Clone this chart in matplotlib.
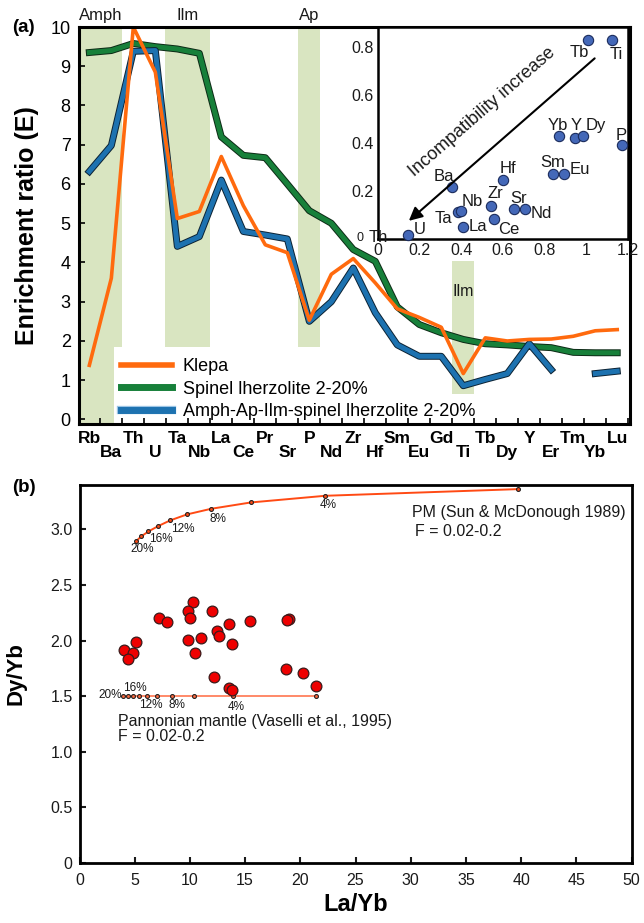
import numpy as np
import matplotlib.pyplot as plt
import matplotlib.patheffects as pe
from matplotlib.lines import Line2D

plt.rcParams['font.family'] = ['Liberation Sans', 'DejaVu Sans']

# ---- panel (a) data ----
elements = ['Rb', 'Ba', 'Th', 'U', 'Ta', 'Nb', 'La', 'Ce', 'Pr', 'Sr', 'P', 'Nd', 'Zr',
            'Hf', 'Sm', 'Eu', 'Gd', 'Ti', 'Tb', 'Dy', 'Y', 'Er', 'Tm', 'Yb', 'Lu']
klepa = [1.38, 3.6, 10.0, 8.85, 5.12, 5.3, 6.7, 5.45, 4.45, 4.25, 2.53, 3.7, 4.1,
         3.48, 2.82, 2.6, 2.35, 1.17, 2.08, 2.0, 2.04, 2.05, 2.12, 2.26, 2.29]
spinel = [9.35, 9.4, 9.58, 9.5, 9.44, 9.33, 7.2, 6.73, 6.67, 6.0, 5.32, 5.0, 4.33,
          4.03, 2.87, 2.42, 2.21, 2.04, 1.93, 1.9, 1.86, 1.83, 1.71, 1.7, 1.7]
amph_ap = [6.32, 6.98, 9.38, 9.4, 4.41, 4.66, 6.1, 4.79, 4.7, 4.6, 2.5, 3.0, 3.86,
           2.72, 1.9, 1.61, 1.61, 0.86, 1.02, 1.17, 1.93, 1.27, np.nan, 1.17, 1.23]

# inset: partition behaviour of elements
inset_x = [0.143, 0.357, 0.382, 0.398, 0.406, 0.541, 0.555, 0.598, 0.651, 0.707,
           0.838, 0.893, 0.867, 0.947, 0.982, 1.171, 1.006, 1.125]
inset_y = [0.015, 0.218, 0.111, 0.117, 0.049, 0.139, 0.085, 0.246, 0.126, 0.126,
           0.271, 0.271, 0.43, 0.422, 0.429, 0.39, 0.828, 0.828]
label_el = ['Th', 'U', 'Ba', 'Ta', 'Nb', 'La', 'Zr', 'Ce', 'Hf', 'Sr', 'Nd', 'Sm', 'Eu',
            'Yb', 'Y', 'Dy', 'P', 'Tb', 'Ti']
label_x = [0.0, 0.198, 0.315, 0.315, 0.45, 0.481, 0.562, 0.626, 0.622, 0.673, 0.782,
           0.838, 0.97, 0.862, 0.95, 1.046, 1.166, 0.966, 1.143]
label_y = [0.007, 0.04, 0.26, 0.086, 0.155, 0.054, 0.1875, 0.0375, 0.294, 0.17, 0.107,
           0.318, 0.2875, 0.471, 0.471, 0.471, 0.433, 0.776, 0.767]

# ---- panel (b) data ----
la_yb = [10.32, 9.86, 10.02, 12.04, 7.23, 7.96, 13.55, 15.46, 18.99, 18.84, 12.49, 12.67,
         9.86, 10.99, 13.83, 5.12, 4.06, 4.88, 4.42, 10.44, 18.72, 20.24, 21.38, 12.22,
         13.53, 13.85]
dy_yb = [2.348, 2.267, 2.207, 2.270, 2.207, 2.171, 2.153, 2.180, 2.195, 2.183, 2.084, 2.039,
         2.009, 2.023, 1.967, 1.987, 1.919, 1.892, 1.838, 1.888, 1.744, 1.708, 1.595, 1.669,
         1.573, 1.559]
pm_x = [5.10, 5.58, 6.24, 7.12, 8.20, 9.72, 11.92, 15.52, 22.26, 39.73]
pm_y = [2.892, 2.937, 2.982, 3.030, 3.081, 3.135, 3.186, 3.243, 3.303, 3.363]
pan_x = [3.97, 4.37, 4.82, 5.39, 6.09, 7.03, 8.36, 10.41, 13.94, 21.41]
pan_y = [1.498] * 10
pm_lab = ['20%', '16%', '12%', '8%', '4%']
pm_lab_x = [5.64, 7.39, 9.32, 12.58, 22.56]
pm_lab_y = [2.82, 2.91, 3.0, 3.09, 3.216]
pan_lab_x = [2.77, 4.97, 6.48, 8.87, 14.16]
pan_lab_y = [1.507, 1.577, 1.417, 1.417, 1.402]

txt = '#1a1a1a'
fig = plt.figure(figsize=(6.44, 9.23), dpi=100)

# ================= panel (a) =================
ax = fig.add_axes([79 / 644, 1 - 424 / 923, 551 / 644, 397 / 923])
pos = np.arange(len(elements))
band = '#d9e5c1'
ylow = 1.85  # bands stop above the legend
ax.fill_between([-0.5, 1.12], -0.2, 10, color=band, lw=0, zorder=0)
ax.fill_between([1.12, 1.5], ylow, 10, color=band, lw=0, zorder=0)
ax.fill_between([3.45, 5.5], ylow, 10, color=band, lw=0, zorder=0)
ax.fill_between([9.5, 10.5], ylow, 10, color=band, lw=0, zorder=0)
ax.fill_between([16.5, 17.5], 0.66, 4.05, color=band, lw=0, zorder=0)
ax.text(17, 3.26, 'Ilm', ha='center', va='center', fontsize=11.5, color=txt)

bt = ax.get_xaxis_transform()
for xc, name in [(0.52, 'Amph'), (4.45, 'Ilm'), (10.0, 'Ap')]:
    ax.text(xc, 1.03, name, transform=bt, ha='center', va='center', fontsize=12, color=txt)

green = '#17803a'
blue = '#1d72b0'
orange = '#ff6a0e'
ax.plot(pos, spinel, color=green, lw=3.6, zorder=3,
        path_effects=[pe.Stroke(linewidth=5.0, foreground='#0d2a16'), pe.Normal()])
ax.plot(pos, amph_ap, color=blue, lw=3.6, zorder=4,
        path_effects=[pe.Stroke(linewidth=5.0, foreground='#0c2233'), pe.Normal()])
ax.plot(pos, klepa, color=orange, lw=2.6, zorder=5)

ax.set_xlim(-0.47, 24.58)
ax.set_ylim(-0.115, 10)
ax.set_yticks(range(0, 11))
ax.set_xticks(pos)
ax.set_xticklabels([e if i % 2 == 0 else '\n' + e for i, e in enumerate(elements)],
                   fontsize=12.5, fontweight='bold', linespacing=0.95)
ax.set_xticks(pos + 0.5, minor=True)
ax.tick_params(axis='x', which='major', length=0, pad=5)
ax.tick_params(axis='x', which='minor', direction='in', length=4, width=1.2)
ax.tick_params(axis='y', direction='in', length=4, width=1.2, labelsize=13, pad=6)
for s in ax.spines.values():
    s.set_linewidth(2.2)
    s.set_zorder(8)
ax.set_ylabel('Enrichment ratio (E)', fontsize=18, fontweight='bold', labelpad=8)

handles = [Line2D([], [], color=orange, lw=4),
           Line2D([], [], color=green, lw=5),
           Line2D([], [], color=blue, lw=5,
                  path_effects=[pe.Stroke(linewidth=6, foreground='#9cc5e6'), pe.Normal()])]
leg = ax.legend(handles, ['Klepa', 'Spinel lherzolite 2-20%',
                          'Amph-Ap-Ilm-spinel lherzolite 2-20%'],
                loc='lower left', bbox_to_anchor=(0.07, 0.0), borderaxespad=0,
                fontsize=13, handlelength=2.8, handletextpad=0.6, labelspacing=0.32,
                borderpad=0.2, frameon=False)
leg.set_zorder(7)

fig.text(12 / 644, 1 - 27 / 923, '(a)', fontsize=13.5, fontweight='bold', va='center')

# ---- inset ----
axi = fig.add_axes([378 / 644, 1 - 239 / 923, 250 / 644, 212 / 923])
axi.set_zorder(9)
axi.scatter(inset_x, inset_y, s=55, color='#4468b8', edgecolor='#1b2c5c', lw=0.8,
            zorder=3, clip_on=False)
for n, x, y in zip(label_el, label_x, label_y):
    axi.text(x, y, n, ha='center', va='center', fontsize=12, color=txt, clip_on=False)
axi.annotate('', xy=(0.138, 0.068), xytext=(1.05, 0.76),
             arrowprops=dict(arrowstyle='-|>', lw=1.5, color='k', mutation_scale=20))
axi.text(0.50, 0.528, 'Incompatibility increase', rotation=41, rotation_mode='anchor',
         ha='center', va='center', fontsize=13, color=txt)
axi.set_xlim(0, 1.2)
axi.set_ylim(0, 0.883)
axi.set_xticks([0, 0.2, 0.4, 0.6, 0.8, 1.0, 1.2])
axi.set_xticklabels(['0', '0.2', '0.4', '0.6', '0.8', '1', '1.2'])
axi.set_yticks([0.2, 0.4, 0.6, 0.8])
axi.set_yticklabels(['0.2', '0.4', '0.6', '0.8'])
axi.text(-0.072, 0.004, '0', ha='right', va='center', fontsize=9, color=txt)
axi.tick_params(length=0, labelsize=11.5, pad=3, colors=txt)
for s in axi.spines.values():
    s.set_linewidth(1.8)

# ================= panel (b) =================
axb = fig.add_axes([79.5 / 644, 1 - 863 / 923, 552 / 644, 378 / 923])
pm_col = '#ff4a14'
axb.plot(pm_x, pm_y, color=pm_col, lw=1.4, marker='o', ms=2.8, mfc=pm_col, mec='#222222',
         mew=0.8, zorder=3)
axb.plot(pan_x, pan_y, color='#ff6a40', lw=1.1, marker='o', ms=2.8, mfc='#ff6a40',
         mec='#222222', mew=0.8, zorder=3)
axb.scatter(la_yb, dy_yb, s=60, color='#ee0000', edgecolor='#3a1a1a', lw=0.9, zorder=4)
for t, x, y in zip(pm_lab, pm_lab_x, pm_lab_y):
    axb.text(x, y, t, ha='center', va='center', fontsize=8.5, color=txt)
for t, x, y in zip(pm_lab, pan_lab_x, pan_lab_y):
    axb.text(x, y, t, ha='center', va='center', fontsize=8.5, color=txt)
axb.text(3.52, 1.276, 'Pannonian mantle (Vaselli et al., 1995)', ha='left', va='center',
         fontsize=11.5, color=txt)
axb.text(3.52, 1.14, 'F = 0.02-0.2', ha='left', va='center', fontsize=11.5, color=txt)
axb.text(49.5, 3.153, 'PM (Sun & McDonough 1989)', ha='right', va='center',
         fontsize=11.5, color=txt)
axb.text(30.35, 2.985, 'F = 0.02-0.2', ha='left', va='center', fontsize=11.5, color=txt)

axb.set_xlim(0, 50)
axb.set_ylim(0, 3.40)
axb.set_xticks(range(0, 51, 5))
axb.set_yticks([0, 0.5, 1.0, 1.5, 2.0, 2.5, 3.0])
axb.set_yticklabels(['0', '0.5', '1.0', '1.5', '2.0', '2.5', '3.0'])
axb.tick_params(direction='in', length=4, width=1.5, labelsize=11.5, pad=5, colors=txt)
axb.tick_params(axis='x', pad=7)
for s in axb.spines.values():
    s.set_linewidth(2.0)
axb.set_xlabel('La/Yb', fontsize=17, fontweight='bold', labelpad=4)
axb.set_ylabel('Dy/Yb', fontsize=16, fontweight='bold', labelpad=17)
fig.text(12 / 644, 1 - 488 / 923, '(b)', fontsize=13.5, fontweight='bold', va='center')

fig.savefig('out.png', dpi=100)
